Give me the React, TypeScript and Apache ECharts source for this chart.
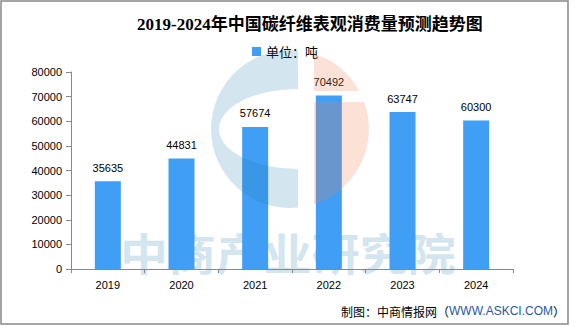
import React, { useEffect, useRef } from "react";
import * as echarts from "echarts";

const categories = ["2019", "2020", "2021", "2022", "2023", "2024"];
const values = [35635, 44831, 57674, 70492, 63747, 60300];
const seriesName = "单位：吨";
const titleText = "2019-2024年中国碳纤维表观消费量预测趋势图";
const watermarkText = "中商产业研究院";

const bluePath = "M 8 -78.6 A 79 79 0 1 0 8 78.6 L 8 40 A 79 40 0 0 1 8 -40 Z";
const salmonPath =
  "M 24 -75.3 A 79 79 0 0 1 69.3 -38 L 24 -38 Z M 24 -27 L 74.2 -27 A 79 79 0 0 1 24 75.3 Z";

let registered = false;
function registerShapes() {
  if (registered) return;
  registered = true;
  echarts.graphic.registerShape("wmBlue", echarts.graphic.extendPath(bluePath, {}) as any);
  echarts.graphic.registerShape("wmSalmon", echarts.graphic.extendPath(salmonPath, {}) as any);
}

export default function App() {
  const ref = useRef<HTMLDivElement>(null);
  useEffect(() => {
    if (!ref.current) return;
    registerShapes();
    const chart = echarts.init(ref.current, undefined, { renderer: "svg" });
    const sansFont = "'Liberation Sans', Arial, sans-serif";
    chart.setOption({
      animation: false,
      backgroundColor: "#ffffff",
      title: {
        text: titleText,
        left: 137,
        top: 16,
        padding: 0,
        textStyle: {
          fontFamily: "'Liberation Serif', 'Noto Sans CJK SC', serif",
          fontWeight: "bold",
          fontSize: 17,
          color: "#000",
        },
      },
      legend: {
        data: [seriesName],
        left: 252,
        top: 45,
        padding: 0,
        icon: "rect",
        itemWidth: 9,
        itemHeight: 9,
        textStyle: {
          fontFamily: "'Noto Sans CJK SC', sans-serif",
          fontSize: 13,
          color: "#000",
        },
      },
      grid: { left: 71, right: 68, top: 72, bottom: 58, containLabel: false },
      xAxis: {
        type: "category",
        data: categories,
        axisLine: { show: true, lineStyle: { color: "#888", width: 1 } },
        axisTick: { show: true, length: 4, lineStyle: { color: "#888" } },
        axisLabel: { color: "#000", fontSize: 11, margin: 10, fontFamily: sansFont },
        splitLine: { show: false },
      },
      yAxis: {
        type: "value",
        min: 0,
        max: 80000,
        interval: 10000,
        axisLine: { show: true, lineStyle: { color: "#888", width: 1 } },
        axisTick: { show: true, length: 5, lineStyle: { color: "#888" } },
        axisLabel: {
          color: "#000",
          fontSize: 11,
          margin: 9,
          fontFamily: sansFont,
          formatter: (v: number) => String(v),
        },
        splitLine: { show: false },
      },
      series: [
        {
          name: seriesName,
          type: "bar",
          data: values,
          barWidth: 26,
          itemStyle: { color: "#409ef4" },
          label: {
            show: true,
            position: "top",
            distance: 8,
            color: "#000",
            fontSize: 11,
            fontFamily: sansFont,
          },
        },
      ],
      graphic: [
        {
          type: "text",
          z: 0,
          x: 120,
          y: 230,
          scaleX: 1.09,
          silent: true,
          style: {
            text: watermarkText,
            fill: "#d3e5ef",
            fontSize: 44,
            lineHeight: 44,
            fontWeight: "bold",
            fontFamily: "'Noto Sans CJK SC', sans-serif",
          },
        },
        {
          type: "wmBlue",
          x: 290,
          y: 129,
          z: 100,
          silent: true,
          style: { fill: "rgba(35,125,175,0.2)" },
        },
        {
          type: "wmSalmon",
          x: 290,
          y: 129,
          z: 100,
          silent: true,
          style: { fill: "rgba(238,130,84,0.24)" },
        },
        {
          type: "text",
          z: 100,
          right: 16,
          top: 305,
          style: {
            text: "{a|制图：中商情报网（}{b|WWW.ASKCI.COM}{a|）}",
            rich: {
              a: { fill: "#000", fontSize: 12, fontFamily: "'Noto Sans CJK SC', sans-serif" },
              b: { fill: "#1f5aa6", fontSize: 12, fontFamily: sansFont },
            },
          },
        },
        {
          type: "rect",
          z: 100,
          silent: true,
          shape: { x: 1, y: 1, width: 567, height: 323 },
          style: { fill: "none", stroke: "#888", lineWidth: 1.5 },
        },
      ],
    });
    return () => chart.dispose();
  }, []);
  return (
    <div
      ref={ref}
      style={{ position: "absolute", left: 0, top: 0, width: 581, height: 327 }}
    />
  );
}
